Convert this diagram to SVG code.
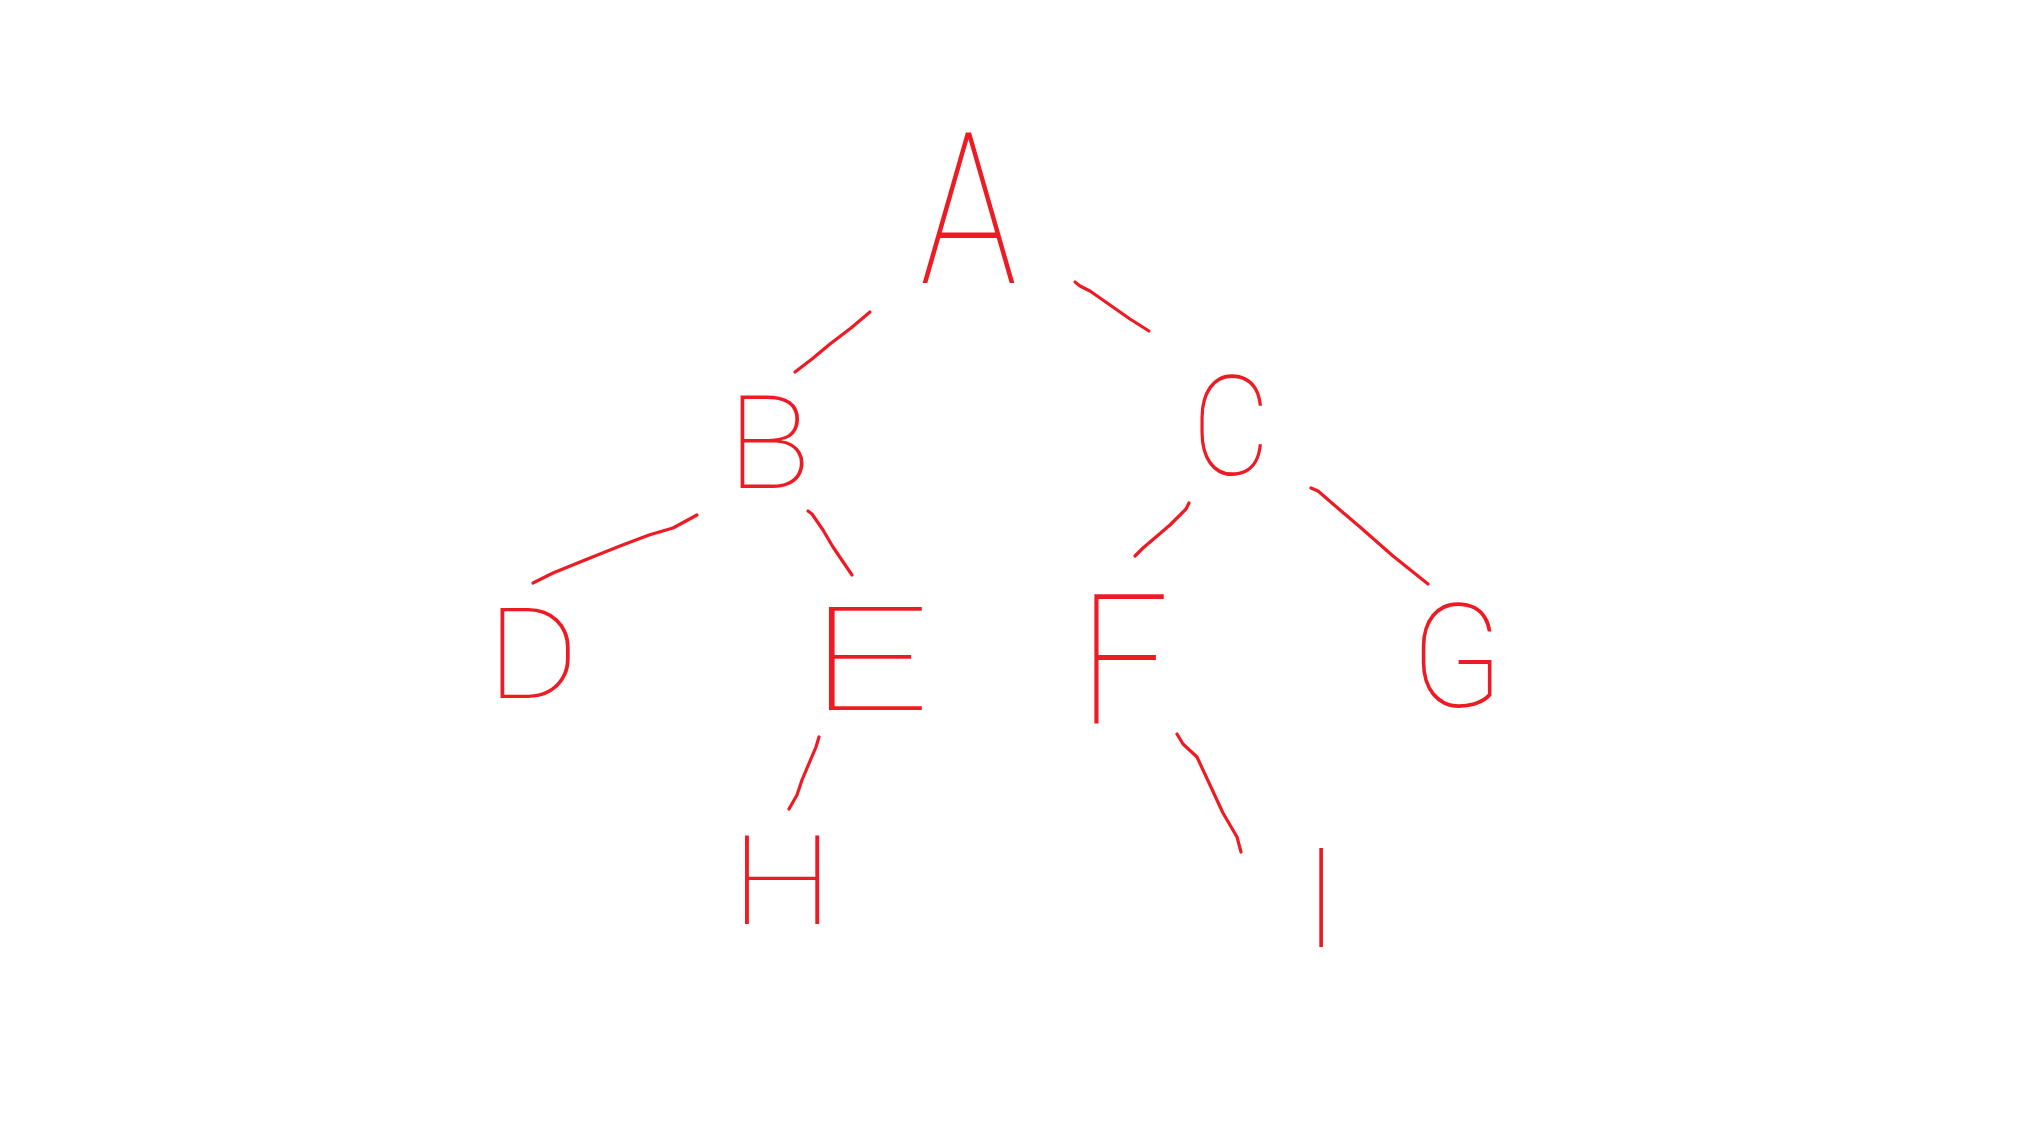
<svg xmlns="http://www.w3.org/2000/svg" width="2024" height="1131" viewBox="0 0 2024 1131">
<style>
.edge{fill:none;stroke:#ed1c24;stroke-width:3.2;stroke-linecap:round;stroke-linejoin:round}
.lbl{fill:#ed1c24;font-family:Roboto,sans-serif;font-weight:100;text-anchor:middle}
</style>
<rect width="2024" height="1131" fill="#ffffff"/>
<g id="connectors">
<path id="e-A-B" class="edge" d="M870,312 L851,328 L830,344 L812,359 L795,372"/>
<path id="e-A-C" class="edge" d="M1075,282 L1080,286 L1090,291 L1110,305 L1130,319 L1149,331"/>
<path id="e-B-D" class="edge" d="M697,515 L673,528 L649,535 L620,546 L585,560 L553,573 L533,583"/>
<path id="e-B-E" class="edge" d="M808,511 L812,514 L823,530 L833,547 L852,575"/>
<path id="e-C-F" class="edge" d="M1189,503 L1186,509 L1170,525 L1143,548 L1135,556"/>
<path id="e-C-G" class="edge" d="M1311,488 L1318,491 L1340,510 L1360,527 L1393,556 L1428,584"/>
<path id="e-E-H" class="edge" d="M819,737 L816,747 L802,780 L797,795 L789,809"/>
<path id="e-F-I" class="edge" d="M1177,734 L1183,744 L1197,757 L1223,813 L1237,837 L1241,852"/>
</g>
<g id="node-A"><text class="lbl" font-size="211" transform="translate(968.5,283) scale(0.77,1)">A</text></g>
<g id="node-B"><text class="lbl" font-size="129" transform="translate(769,488) scale(1.08,1)">B</text></g>
<g id="node-C"><text class="lbl" font-size="140" transform="translate(1231,475) scale(0.86,1)">C</text></g>
<g id="node-D"><text class="lbl" font-size="126" transform="translate(533,698) scale(1.12,1)">D</text></g>
<g id="node-E"><text class="lbl" font-size="145" transform="translate(869,710) scale(1.48,1)">E</text></g>
<g id="node-F"><text class="lbl" font-size="181" transform="translate(1124,724) scale(0.87,1)">F</text></g>
<g id="node-G"><text class="lbl" font-size="145" transform="translate(1457,707) scale(0.93,1)">G</text></g>
<g id="node-H"><text class="lbl" font-size="125" transform="translate(782,924) scale(1.17,1)">H</text></g>
<g id="node-I"><text class="lbl" font-size="139" transform="translate(1321,947)">I</text></g>
</svg>
